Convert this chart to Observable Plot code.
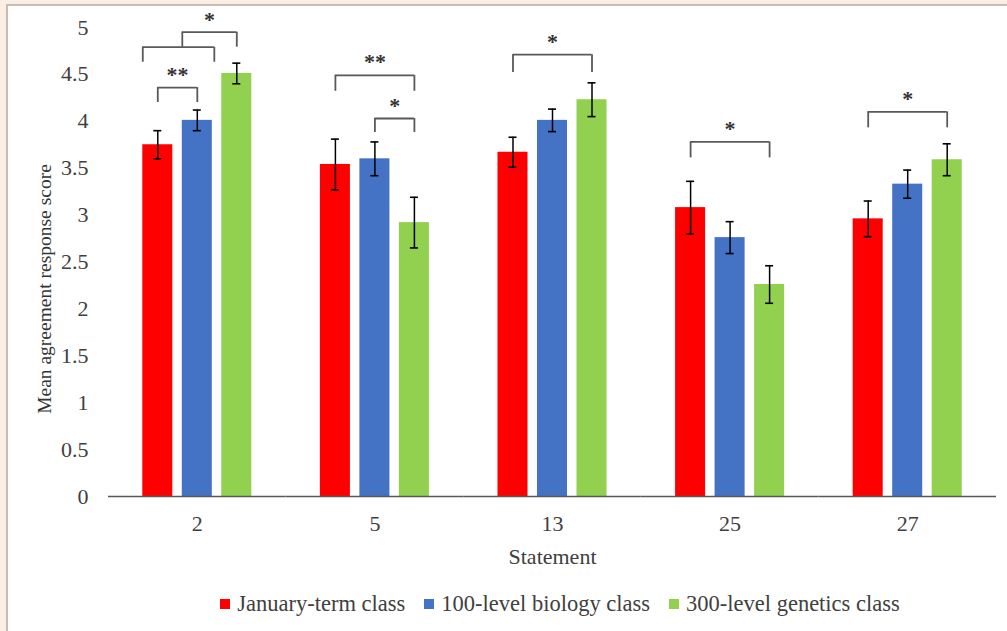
<!DOCTYPE html>
<html>
<head>
<meta charset="utf-8">
<script src="https://cdn.jsdelivr.net/npm/d3@7"></script>
<script src="https://cdn.jsdelivr.net/npm/@observablehq/plot@0.6"></script>
<style>
  html, body { margin: 0; padding: 0; background: #fbeee4; width: 1007px; height: 631px; overflow: hidden; }
  #panel { position: absolute; left: 6px; top: 4px; right: 0; bottom: 0; background: #fff;
           border-left: 2px solid #cbbcb1; border-top: 2px solid #cbbcb1; }
  #chart { position: absolute; left: 0; top: 0; }
  #ytitle { position: absolute; left: 45px; top: 289px; transform: translate(-50%, -50%) rotate(-90deg);
            white-space: nowrap; font-family: "Liberation Serif", serif; font-size: 19.5px; color: #333; line-height: 1; }
  #legend { position: absolute; left: 108px; width: 888px; top: 591px; padding-left: 16px; box-sizing: border-box;
            display: flex; justify-content: center; gap: 19px;
            font-family: "Liberation Serif", serif; font-size: 22.5px; color: #404040; }
  #legend .item { display: flex; align-items: center; }
  #legend .sw { width: 10px; height: 10px; margin-right: 7px; }
</style>
</head>
<body>
<div id="panel"></div>
<div id="chart"></div>
<div id="ytitle">Mean agreement response score</div>
<div id="legend"></div>
<script>
// ---- data ----
const statements = ["2", "5", "13", "25", "27"];
const classes = ["January-term class", "100-level biology class", "300-level genetics class"];
const classColors = ["#ff0000", "#4472c4", "#92d050"];

const janTerm = [3.75, 3.54, 3.67, 3.08, 2.96];
const bio100  = [4.01, 3.60, 4.01, 2.76, 3.33];
const gen300  = [4.51, 2.92, 4.23, 2.26, 3.59];

const janTermErr = [0.15, 0.27, 0.16, 0.28, 0.19];
const bio100Err  = [0.11, 0.18, 0.12, 0.17, 0.15];
const gen300Err  = [0.11, 0.27, 0.18, 0.20, 0.17];

const yTicks = [0, 0.5, 1, 1.5, 2, 2.5, 3, 3.5, 4, 4.5, 5];

// significance brackets (pairwise): statement, from class index, to class index, bar level, leg end, label
const bracketStatement = ["2", "5", "5", "13", "25", "27"];
const bracketFrom  = [0, 0, 1, 0, 0, 0];
const bracketTo    = [1, 2, 2, 2, 2, 2];
const bracketTop   = [4.36, 4.49, 4.03, 4.71, 3.78, 4.10];
const bracketLeg   = [4.20, 4.32, 3.88, 4.52, 3.61, 3.93];
const bracketLabel = ["**", "**", "*", "*", "*", "*"];

// nested bracket: (January-term + 100-level) vs 300-level on statement 2
const nestedStatement = "2";
const nestedTop = 4.79, nestedLeg = 4.63, nestedStem = 4.95, nestedLabel = "*";

// ---- tables ----
const series = [janTerm, bio100, gen300];
const seriesErr = [janTermErr, bio100Err, gen300Err];
const bars = statements.flatMap((s, i) => classes.map((c, j) => ({
  statement: s, cls: c, value: series[j][i], err: seriesErr[j][i]
})));
const brackets = bracketStatement.map((s, i) => ({
  statement: s, from: classes[bracketFrom[i]], to: classes[bracketTo[i]],
  span: bracketTo[i] - bracketFrom[i], mid: classes[Math.floor((bracketFrom[i] + bracketTo[i]) / 2)],
  top: bracketTop[i], leg: bracketLeg[i], label: bracketLabel[i]
}));
const legs = brackets.flatMap(b => [
  {statement: b.statement, cls: b.from, y1: b.leg, y2: b.top},
  {statement: b.statement, cls: b.to, y1: b.leg, y2: b.top}
]);
const nested = [{statement: nestedStatement, top: nestedTop, leg: nestedLeg, stem: nestedStem, label: nestedLabel}];

// ---- layout ----
const W = 1007, H = 575, mL = 108, mR = 11, mT = 27, mB = H - 496;
const fw = (W - mL - mR) / statements.length;
const pIn = 0.24, pOut = 0.868;
const step = fw / (classes.length - pIn + 2 * pOut);
const bw = step * (1 - pIn);
const ink = "#595959";
const fontFam = "'Liberation Serif', 'Times New Roman', serif";
const starStyle = {fontSize: 22, fontWeight: "bold", fill: "#333"};

const chart = Plot.plot({
  width: W, height: H,
  marginLeft: mL, marginRight: mR, marginTop: mT, marginBottom: mB,
  style: {fontFamily: fontFam, fontSize: "22px", color: "#404040", background: "transparent", overflow: "visible"},
  fx: {domain: statements, padding: 0, round: false},
  x: {domain: classes, paddingInner: pIn, paddingOuter: pOut, round: false, axis: null},
  y: {domain: [0, 5]},
  color: {domain: classes, range: classColors},
  marks: [
    Plot.barY(bars, {fx: "statement", x: "cls", y: "value", fill: "cls"}),
    Plot.ruleY([0], {stroke: ink, strokeWidth: 1.6}),
    Plot.ruleX([statements[0]], {fx: d => d, y1: 0, y2: 5, dx: -fw / 2, stroke: ink, strokeWidth: 1.4}),
    // error bars
    Plot.ruleX(bars, {fx: "statement", x: "cls", y1: d => d.value - d.err, y2: d => d.value + d.err, stroke: "#000", strokeWidth: 1.5}),
    Plot.tickY(bars, {fx: "statement", x: "cls", y: d => d.value + d.err, insetLeft: (bw - 8) / 2, insetRight: (bw - 8) / 2, stroke: "#000", strokeWidth: 1.6}),
    Plot.tickY(bars, {fx: "statement", x: "cls", y: d => d.value - d.err, insetLeft: (bw - 8) / 2, insetRight: (bw - 8) / 2, stroke: "#000", strokeWidth: 1.6}),
    // pairwise brackets
    Plot.ruleY(brackets, {fx: "statement", x1: "from", x2: "to", y: "top", insetLeft: bw / 2, insetRight: bw / 2, stroke: ink, strokeWidth: 1.8}),
    Plot.ruleX(legs, {fx: "statement", x: "cls", y1: "y1", y2: "y2", stroke: ink, strokeWidth: 1.8}),
    Plot.text(brackets.filter(b => b.span === 2), {fx: "statement", x: "mid", y: "top", text: "label", dy: -13, ...starStyle}),
    Plot.text(brackets.filter(b => b.span === 1), {fx: "statement", x: "from", y: "top", text: "label", dx: step / 2, dy: -13, ...starStyle}),
    // nested bracket on statement 2
    Plot.ruleY(nested, {fx: "statement", x1: () => classes[0], x2: () => classes[1], y: "top", insetRight: -2, stroke: ink, strokeWidth: 1.8}),
    Plot.ruleX(nested, {fx: "statement", x: () => classes[0], y1: "leg", y2: "top", dx: -bw / 2, stroke: ink, strokeWidth: 1.8}),
    Plot.ruleX(nested, {fx: "statement", x: () => classes[1], y1: "leg", y2: "top", dx: bw / 2 + 2, stroke: ink, strokeWidth: 1.8}),
    Plot.ruleX(nested, {fx: "statement", x: () => classes[1], y1: "top", y2: "stem", dx: -bw / 2, stroke: ink, strokeWidth: 1.8}),
    Plot.ruleY(nested, {fx: "statement", x1: () => classes[1], x2: () => classes[2], y: "stem", insetRight: bw / 2, stroke: ink, strokeWidth: 1.8}),
    Plot.ruleX(nested, {fx: "statement", x: () => classes[2], y1: "top", y2: "stem", stroke: ink, strokeWidth: 1.8}),
    Plot.text(nested, {fx: "statement", x: () => classes[2], y: "stem", text: "label", dx: -(step + bw / 2) / 2, dy: -12, ...starStyle}),
    // axes
    Plot.axisY(yTicks, {tickSize: 0, tickPadding: 20, label: null, tickFormat: d => String(d)}),
    Plot.axisFx({anchor: "bottom", tickSize: 0, tickPadding: 19, label: "Statement", labelAnchor: "center", labelOffset: 67})
  ]
});
document.getElementById("chart").appendChild(chart);

// legend
const legend = document.getElementById("legend");
classes.forEach((c, i) => {
  const item = document.createElement("div");
  item.className = "item";
  const sw = document.createElement("span");
  sw.className = "sw";
  sw.style.background = classColors[i];
  const t = document.createElement("span");
  t.textContent = c;
  item.appendChild(sw); item.appendChild(t);
  legend.appendChild(item);
});
</script>
</body>
</html>
